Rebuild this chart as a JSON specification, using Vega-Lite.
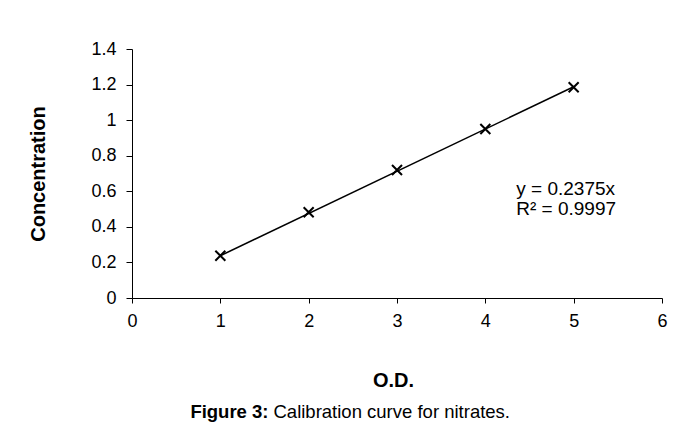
{
  "$schema": "https://vega.github.io/schema/vega-lite/v6.json",
  "width": 530,
  "height": 249,
  "autosize": "none",
  "padding": {"left": 132, "top": 49, "right": 21, "bottom": 130},
  "background": "white",
  "config": {
    "view": {"stroke": null},
    "font": "Liberation Sans",
    "axis": {
      "grid": false,
      "domainColor": "black",
      "tickColor": "black",
      "labelColor": "black",
      "titleColor": "black",
      "domainWidth": 1,
      "tickWidth": 1,
      "labelFont": "Liberation Sans",
      "titleFont": "Liberation Sans",
      "labelOverlap": false,
      "labelFlush": false
    }
  },
  "datasets": {
    "points": [
      {"od": 1, "conc": 0.238},
      {"od": 2, "conc": 0.482},
      {"od": 3, "conc": 0.72},
      {"od": 4, "conc": 0.95},
      {"od": 5, "conc": 1.185}
    ],
    "trend": [
      {"od": 1, "conc": 0.2375},
      {"od": 5, "conc": 1.1875}
    ],
    "note": [
      {"label": "equation"}
    ]
  },
  "layer": [
    {
      "data": {"name": "trend"},
      "mark": {"type": "line", "color": "black", "strokeWidth": 1.5},
      "encoding": {
        "x": {
          "field": "od", "type": "quantitative",
          "scale": {"domain": [0, 6], "nice": false, "zero": false},
          "axis": {
            "orient": "bottom",
            "values": [0, 1, 2, 3, 4, 5, 6],
            "labelFontSize": 18,
            "tickSize": 5,
            "labelPadding": 9,
            "title": "O.D.",
            "titleFontSize": 20,
            "titleFontWeight": "bold",
            "titleX": 261,
            "titleY": 88,
            "titleBaseline": "alphabetic"
          }
        },
        "y": {
          "field": "conc", "type": "quantitative",
          "scale": {"domain": [0, 1.4], "nice": false},
          "axis": {
            "values": [0, 0.2, 0.4, 0.6, 0.8, 1, 1.2, 1.4],
            "format": ".1~f",
            "labelFontSize": 18,
            "tickSize": 6,
            "labelPadding": 10,
            "title": "Concentration",
            "titleFontSize": 20,
            "titleFontWeight": "bold",
            "titleX": -94,
            "titleY": 124.5,
            "titleBaseline": "middle",
            "titleAlign": "center"
          }
        }
      }
    },
    {
      "data": {"name": "points"},
      "mark": {
        "type": "point",
        "shape": "M-1,-1L1,1M-1,1L1,-1",
        "filled": false,
        "stroke": "black",
        "strokeWidth": 2,
        "size": 100,
        "opacity": 1
      },
      "encoding": {
        "x": {
          "field": "od", "type": "quantitative",
          "axis": {
            "orient": "bottom",
            "domain": false, "ticks": false, "labels": false,
            "title": "Figure 3:",
            "titleFontSize": 18.5,
            "titleFontWeight": "bold",
            "titleX": 136,
            "titleY": 119,
            "titleAlign": "right",
            "titleBaseline": "alphabetic"
          }
        },
        "y": {
          "field": "conc", "type": "quantitative",
          "axis": {
            "values": [0, 0.2, 0.4, 0.6, 0.8, 1, 1.2, 1.4],
            "format": ".1~f",
            "labelFontSize": 18,
            "tickSize": 6,
            "labelPadding": 10,
            "title": "Concentration",
            "titleFontSize": 20,
            "titleFontWeight": "bold",
            "titleX": -94,
            "titleY": 124.5,
            "titleBaseline": "middle",
            "titleAlign": "center"
          }
        }
      }
    },
    {
      "data": {"name": "note"},
      "mark": {
        "type": "text",
        "align": "left",
        "baseline": "middle",
        "fontSize": 19,
        "lineHeight": 20,
        "color": "black",
        "font": "Liberation Sans",
        "text": ["y = 0.2375x", "R² = 0.9997"]
      },
      "encoding": {
        "x": {
          "datum": 4.35, "type": "quantitative",
          "axis": {
            "orient": "bottom",
            "domain": false, "ticks": false, "labels": false,
            "title": "Calibration curve for nitrates.",
            "titleFontSize": 18.5,
            "titleFontWeight": "normal",
            "titleX": 141,
            "titleY": 119,
            "titleAlign": "left",
            "titleBaseline": "alphabetic"
          }
        },
        "y": {
          "datum": 0.615, "type": "quantitative",
          "axis": {
            "values": [0, 0.2, 0.4, 0.6, 0.8, 1, 1.2, 1.4],
            "format": ".1~f",
            "labelFontSize": 18,
            "tickSize": 6,
            "labelPadding": 10,
            "title": "Concentration",
            "titleFontSize": 20,
            "titleFontWeight": "bold",
            "titleX": -94,
            "titleY": 124.5,
            "titleBaseline": "middle",
            "titleAlign": "center"
          }
        }
      }
    }
  ],
  "resolve": {"axis": {"x": "independent"}}
}
